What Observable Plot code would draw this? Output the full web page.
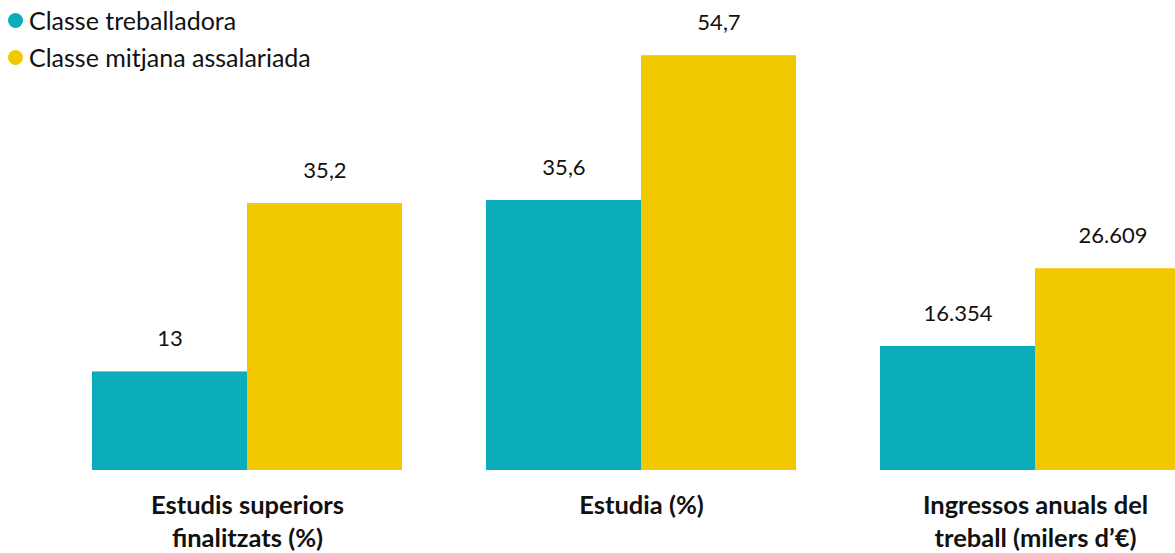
<!DOCTYPE html>
<html>
<head>
<meta charset="utf-8">
<script src="https://cdn.jsdelivr.net/npm/d3@7"></script>
<script src="https://cdn.jsdelivr.net/npm/@observablehq/plot@0.6"></script>
<style>
  body { margin: 0; background: #fff; font-family: Lato, "Open Sans", sans-serif; }
  #wrap { position: relative; width: 1175px; height: 553px; overflow: hidden; }
  #chart svg { max-width: none !important; display: block; }
  #legend { position: absolute; left: 0; top: 0; font-size: 25px; color: #111; }
  .item { position: absolute; left: 8px; white-space: nowrap; display: flex; align-items: center; height: 30px; }
  .sw { width: 15px; height: 15px; border-radius: 50%; margin-right: 6px; }
</style>
</head>
<body>
<div id="wrap">
  <div id="chart"></div>
  <div id="legend"></div>
</div>
<script>
const groups = ["Estudis superiors finalitzats (%)", "Estudia (%)", "Ingressos anuals del treball (milers d’€)"];
const groupLabels = ["Estudis superiors\nfinalitzats (%)", "Estudia (%)", "Ingressos anuals del\ntreball (milers d’€)"];
const classes = ["Classe treballadora", "Classe mitjana assalariada"];
const colors = ["#0cadba", "#f2c800"];
const treballadora = [13, 35.6, 16.354];
const mitjana = [35.2, 54.7, 26.609];
const labelsTreballadora = ["13", "35,6", "16.354"];
const labelsMitjana = ["35,2", "54,7", "26.609"];

const data = [];
groups.forEach((g, i) => {
  data.push({group: g, cls: classes[0], value: treballadora[i], label: labelsTreballadora[i]});
  data.push({group: g, cls: classes[1], value: mitjana[i], label: labelsMitjana[i]});
});

const chart = Plot.plot({
  width: 1190,
  height: 553,
  marginTop: 15,
  marginBottom: 83,
  marginLeft: 92,
  marginRight: 0,
  style: {fontFamily: "Lato, 'Open Sans', sans-serif", background: "transparent", maxWidth: "none"},
  fx: {domain: groups, paddingInner: 84 / 394, paddingOuter: 0, axis: null},
  x: {domain: classes, padding: 0, axis: null},
  y: {domain: [0, 60], axis: null},
  color: {domain: classes, range: colors},
  marks: [
    Plot.barY(data, {fx: "group", x: "cls", y: "value", fill: "cls"}),
    Plot.text(data, {fx: "group", x: "cls", y: "value", text: "label", dy: -33, lineAnchor: "middle", fontSize: 22, fill: "#111"}),
    Plot.text(groups, {fx: d => d, text: (d, i) => groupLabels[i], frameAnchor: "bottom", lineAnchor: "top", dy: 20, fontSize: 25.5, fontWeight: "bold", lineHeight: 1.3, fill: "#111"})
  ]
});
document.getElementById("chart").appendChild(chart);

const legend = document.getElementById("legend");
classes.forEach((c, i) => {
  const item = document.createElement("div");
  item.className = "item";
  item.style.top = (5 + i * 37) + "px";
  item.innerHTML = `<span class="sw" style="background:${colors[i]}"></span><span>${c}</span>`;
  legend.appendChild(item);
});
</script>
</body>
</html>
